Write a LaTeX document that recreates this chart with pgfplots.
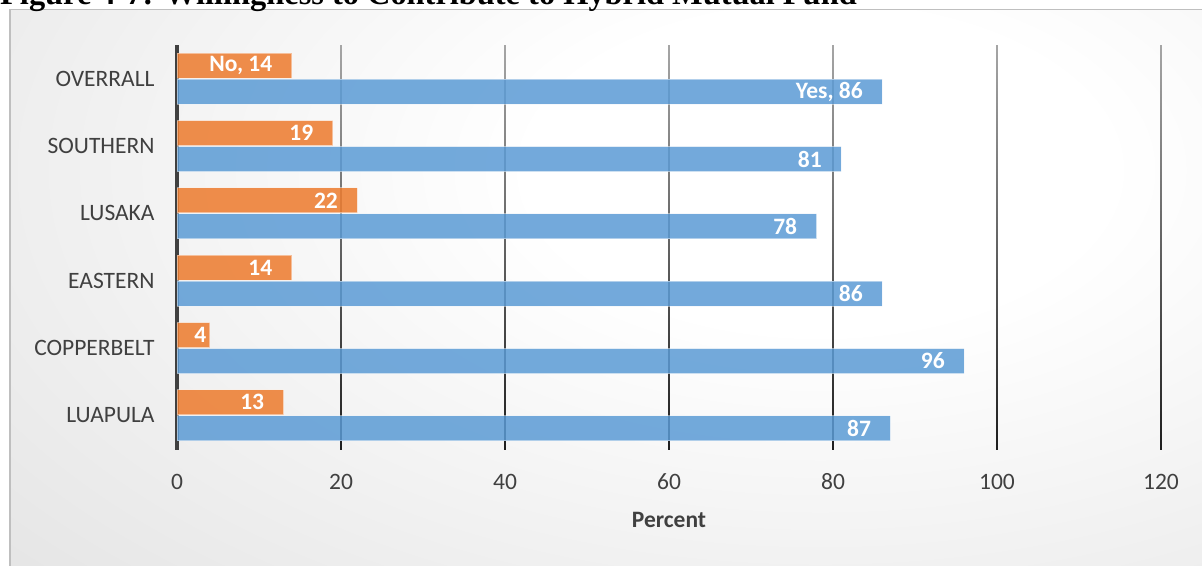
\documentclass[border=0pt]{standalone}
\usepackage{fontspec}
\setmainfont{Carlito}
\newfontfamily\titlefont{Liberation Serif}
\usepackage{pgfplots}
\usepackage{pgfplotstable}
\pgfplotsset{compat=1.18}

\definecolor{noorange}{HTML}{ED7D31}
\definecolor{yesblue}{HTML}{5B9BD5}
\definecolor{labelgray}{HTML}{404040}
\definecolor{framegray}{HTML}{BFBFBF}

% background of the chart area
\pgfdeclareradialshading{chartbg}{\pgfpoint{0bp}{0bp}}{%
  color(0bp)=(white); color(4bp)=(white);
  color(25bp)=(gray!38); color(50bp)=(gray!38)}

% province, share answering "No" (%), label, label offset
\pgfplotstableread{
pos val lbl dx
0 13 13 -19
1 4 4 -3
2 14 14 -19
3 22 22 -19
4 19 19 -19
5 14 {No, 14} -19
}\nodata

% province, share answering "Yes" (%), label, label offset
\pgfplotstableread{
pos val lbl dx
0 87 87 -19
1 96 96 -19
2 86 86 -19
3 78 78 -19
4 81 81 -19
5 86 {Yes, 86} -19
}\yesdata

\begin{document}
\begin{tikzpicture}
% chart frame with soft gradient
\begin{scope}
  \clip (10pt,-9.5pt) rectangle (1210pt,-575pt);
  \shade[shading=chartbg] (820pt,-170pt) ellipse (1800pt and 1000pt);
\end{scope}
\draw[framegray, line width=1.5pt] (10pt,-575pt) -- (10pt,-9.5pt) -- (1210pt,-9.5pt);

% figure caption
\node[anchor=base west, inner sep=0pt, font=\titlefont\bfseries\fontsize{32.4}{36}\selectfont]
  at (0pt,-4pt) {Figure 4-7: Willingness to Contribute to Hybrid Mutual Fund};

\begin{axis}[
  at={(177pt,-449pt)}, anchor=south west,
  scale only axis, width=984pt, height=404pt,
  xmin=0, xmax=120, ymin=-0.5, ymax=5.5,
  xtick={0,20,...,120}, ytick={0,...,5},
  yticklabels={LUAPULA,COPPERBELT,EASTERN,LUSAKA,SOUTHERN,OVERRALL},
  axis line style={draw=none}, major tick style={draw=none},
  tick label style={font=\fontsize{23.5}{27}\selectfont, text=labelgray},
  xticklabel style={anchor=center, yshift=-33pt},
  yticklabel style={anchor=east, inner sep=0pt, xshift=-18pt},
  /pgf/number format/assume math mode=true,
  xlabel={Percent},
  xlabel style={at={(axis description cs:0.5,0)}, anchor=center, yshift=-71pt,
    font=\fontsize{23.5}{27}\selectfont\bfseries, text=labelgray},
  xbar, bar width=25pt,
  clip=false,
  nodes near coords,
  point meta=explicit symbolic,
  every node near coord/.append style={anchor=east, text=white, text opacity=1,
    font=\fontsize{23.5}{27}\selectfont\bfseries, inner sep=0pt, xshift=\dx pt},
]
% vertical grid, darker towards the bottom
\pgfplotsinvokeforeach{20,40,60,80,100,120}{
  \shade[top color=black!35, bottom color=black!88]
    ([xshift=-0.9pt]axis cs:#1,5.5) rectangle ([xshift=0.9pt]axis cs:#1,-0.5);
}
\fill[labelgray] ([xshift=-2pt]axis cs:0,5.5) rectangle ([xshift=2pt,yshift=-1pt]axis cs:0,-0.5);

\addplot[fill=noorange, fill opacity=0.87, draw=white, draw opacity=0.45, line width=1pt,
  bar shift=13pt, visualization depends on={\thisrow{dx} \as \dx}]
  table[x=val, y=pos, meta=lbl] {\nodata};
\addplot[fill=yesblue, fill opacity=0.85, draw=white, draw opacity=0.45, line width=1pt,
  bar shift=-13pt, visualization depends on={\thisrow{dx} \as \dx}]
  table[x=val, y=pos, meta=lbl] {\yesdata};
\end{axis}
\pgfresetboundingbox
\useasboundingbox (0pt,0pt) rectangle (1202pt,-565pt);
\end{tikzpicture}
\end{document}
